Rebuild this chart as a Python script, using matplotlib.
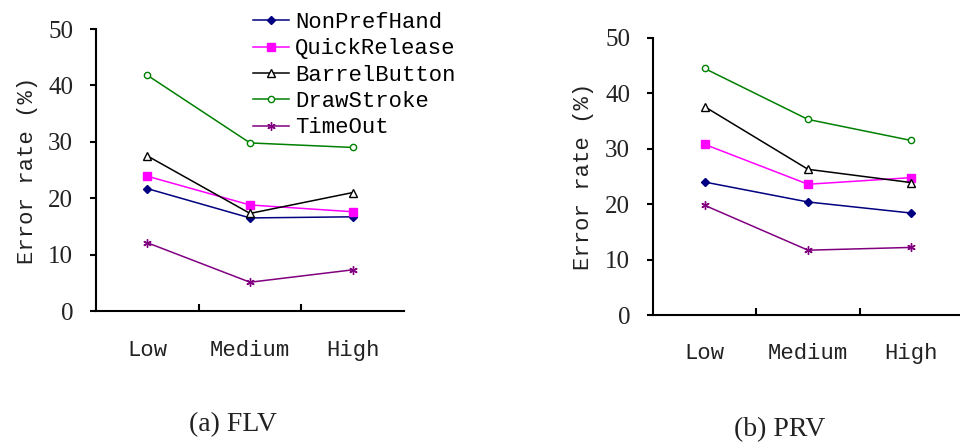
import matplotlib
matplotlib.use("Agg")
import matplotlib.pyplot as plt
import numpy as np

levels = ["Low", "Medium", "High"]
series_names = ["NonPrefHand", "QuickRelease", "BarrelButton", "DrawStroke", "TimeOut"]

flv_nonpref = [21.7, 16.5, 16.7]
flv_quick = [23.9, 18.8, 17.6]
flv_barrel = [27.5, 17.3, 21.0]
flv_draw = [41.8, 29.8, 29.0]
flv_timeout = [12.1, 5.1, 7.3]

prv_nonpref = [24.0, 20.4, 18.4]
prv_quick = [30.8, 23.6, 24.8]
prv_barrel = [37.6, 26.3, 23.9]
prv_draw = [44.5, 35.3, 31.5]
prv_timeout = [19.8, 11.7, 12.2]

y_ticks = [0, 10, 20, 30, 40, 50]

styles = [
    dict(color="#000080", marker="D", markersize=4.5, markerfacecolor="#000080"),
    dict(color="#FF00FF", marker="s", markersize=5.5, markerfacecolor="#FF00FF"),
    dict(color="#000000", marker="^", markersize=6, markerfacecolor="white"),
    dict(color="#008000", marker="o", markersize=4.5, markerfacecolor="white"),
    dict(color="#800080", marker=(6, 2, 0), markersize=6, markerfacecolor="#800080"),
]

MONO = "Liberation Mono"
SERIF = "Liberation Serif"
TEXT_COLOR = "#222222"

fig = plt.figure(figsize=(9.6, 4.43), dpi=100)
fig.patch.set_facecolor("white")

ax1 = fig.add_axes([96 / 960, 1 - 311 / 443, 308 / 960, 282 / 443])
ax2 = fig.add_axes([653 / 960, 1 - 315 / 443, 310 / 960, 277 / 443])

x = np.arange(len(levels)) + 0.5


def draw_panel(ax, data, caption, cap_x, cap_y):
    handles = []
    for name, vals, st in zip(series_names, data, styles):
        h, = ax.plot(x, vals, linewidth=1.1, markeredgewidth=1.0,
                     markeredgecolor=st["color"], label=name, **st)
        handles.append(h)
    ax.set_xlim(0, 3)
    ax.set_ylim(0, 50)
    ax.set_yticks(y_ticks)
    ax.set_yticklabels([str(v) for v in y_ticks], fontfamily=SERIF, fontsize=18,
                       color=TEXT_COLOR)
    ax.set_xticks([1, 2])
    ax.set_xticklabels([])
    ax.tick_params(axis="x", direction="in", length=5, width=1.5)
    ax.tick_params(axis="y", direction="out", length=4, width=1.5, pad=12.5)
    for s in ["top", "right"]:
        ax.spines[s].set_visible(False)
    for s in ["left", "bottom"]:
        ax.spines[s].set_linewidth(1.5)
    for xi, lab in zip(x, levels):
        ax.text(xi, -0.14, lab, transform=ax.get_xaxis_transform(), ha="center",
                va="center", fontfamily=MONO, fontsize=16, color=TEXT_COLOR)
    ax.set_ylabel("Error rate (%)", fontfamily=MONO, fontsize=16, color=TEXT_COLOR,
                  va="center")
    ax.yaxis.set_label_coords(-0.224, 0.5)
    fig.text(cap_x, cap_y, caption, ha="center", va="center", fontfamily=SERIF,
             fontsize=20, color=TEXT_COLOR)
    return handles


handles = draw_panel(ax1, [flv_nonpref, flv_quick, flv_barrel, flv_draw, flv_timeout],
                     "(a) FLV", 233 / 960, 1 - 425 / 443)
draw_panel(ax2, [prv_nonpref, prv_quick, prv_barrel, prv_draw, prv_timeout],
           "(b) PRV", 780 / 960, 1 - 430 / 443)

fig.legend(handles=handles, labels=series_names, loc="upper left",
           bbox_to_anchor=(253 / 960, 1 - 12 / 443), frameon=False,
           prop={"family": MONO, "size": 16}, borderpad=0, borderaxespad=0,
           handlelength=1.6, handletextpad=0.3, labelspacing=0.24)

fig.savefig("out.png", dpi=100, facecolor="white")
